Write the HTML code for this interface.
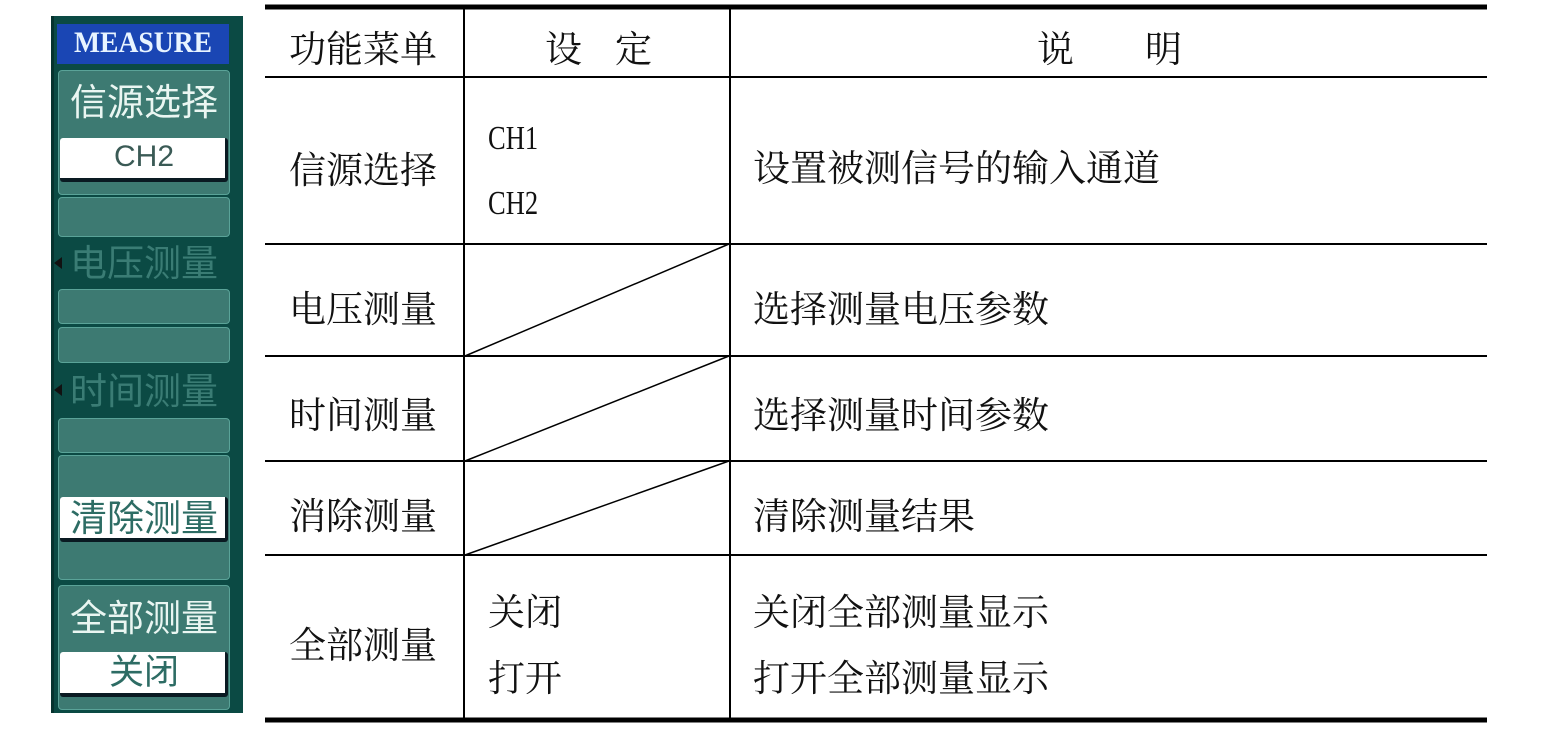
<!DOCTYPE html>
<html><head><meta charset="utf-8"><style>
body{margin:0;width:1549px;height:744px;background:#fff;position:relative;overflow:hidden}
.t{position:absolute;font-family:"Liberation Serif","Noto Serif CJK SC",serif;font-size:37px;color:#111;white-space:nowrap;line-height:1}
.c{font-family:"Liberation Serif",serif;font-size:34px;transform:scaleX(0.78);transform-origin:left}
.p{position:absolute;font-family:"Liberation Sans","Noto Sans CJK SC",sans-serif;white-space:nowrap;line-height:1;text-align:center}
.btn{position:absolute;left:58px;width:172px;background:#3d7a72;border:1px solid #5aa398;border-radius:4px;box-sizing:border-box}
.wb{position:absolute;left:60px;width:168px;background:#fff;border-bottom:4px solid #0a1a22;border-right:3px solid #0a1a22;border-radius:3px;box-sizing:border-box}
</style></head><body>
<!-- left panel -->
<div style="position:absolute;left:51px;top:16px;width:192px;height:697px;background:#0b4a44;border-left:3px solid #06332f;box-sizing:border-box"></div>
<div style="position:absolute;left:57px;top:24px;width:172px;height:40px;background:#1a46b4"></div>
<div class="p" style="left:57px;top:28px;width:172px;font-size:30px;font-weight:bold;color:#e8f4ff;font-family:'Liberation Serif',serif;transform:scaleX(0.92)">MEASURE</div>
<div class="btn" style="top:70px;height:125px"></div>
<div class="p" style="left:56px;top:84px;width:176px;font-size:37px;color:#eaf6f2">信源选择</div>
<div class="wb" style="top:138px;height:44px"></div>
<div class="p" style="left:60px;top:142px;width:168px;font-size:30px;color:#3a5a55">CH2</div>
<div class="btn" style="top:197px;height:40px"></div>
<div class="p" style="left:56px;top:245px;width:176px;font-size:37px;color:#3a7c74">电压测量</div>
<div style="position:absolute;left:54px;top:257px;width:0;height:0;border-top:6px solid transparent;border-bottom:6px solid transparent;border-right:8px solid #111"></div>
<div class="btn" style="top:289px;height:35px"></div>
<div class="btn" style="top:327px;height:36px"></div>
<div class="p" style="left:56px;top:373px;width:176px;font-size:37px;color:#3a7c74">时间测量</div>
<div style="position:absolute;left:54px;top:384px;width:0;height:0;border-top:6px solid transparent;border-bottom:6px solid transparent;border-right:8px solid #111"></div>
<div class="btn" style="top:418px;height:35px"></div>
<div class="btn" style="top:455px;height:125px"></div>
<div class="wb" style="top:497px;height:45px"></div>
<div class="p" style="left:58px;top:500px;width:172px;font-size:37px;color:#2d6c64">清除测量</div>
<div class="btn" style="top:585px;height:125px"></div>
<div class="p" style="left:56px;top:600px;width:176px;font-size:37px;color:#eaf6f2">全部测量</div>
<div class="wb" style="top:652px;height:45px"></div>
<div class="p" style="left:60px;top:655px;width:168px;font-size:35px;color:#2d6c64">关闭</div>
<!-- table lines -->
<svg style="position:absolute;left:0;top:0" width="1549" height="744">
<g stroke="#000" fill="none">
<line x1="265" y1="7" x2="1487" y2="7" stroke-width="5"/>
<line x1="265" y1="77" x2="1487" y2="77" stroke-width="2"/>
<line x1="265" y1="244" x2="1487" y2="244" stroke-width="2"/>
<line x1="265" y1="356" x2="1487" y2="356" stroke-width="2"/>
<line x1="265" y1="461" x2="1487" y2="461" stroke-width="2"/>
<line x1="265" y1="555" x2="1487" y2="555" stroke-width="2"/>
<line x1="265" y1="720" x2="1487" y2="720" stroke-width="5"/>
<line x1="464" y1="9" x2="464" y2="718" stroke-width="2"/>
<line x1="730" y1="9" x2="730" y2="718" stroke-width="2"/>
<line x1="465" y1="356" x2="729" y2="244" stroke-width="1.5"/>
<line x1="465" y1="461" x2="729" y2="356" stroke-width="1.5"/>
<line x1="465" y1="555" x2="729" y2="461" stroke-width="1.5"/>
</g></svg>
<div class="t" style="left:289px;top:32px">功能菜单</div>
<div class="t" style="left:545px;top:32px">设</div>
<div class="t" style="left:615px;top:32px">定</div>
<div class="t" style="left:1037px;top:32px">说</div>
<div class="t" style="left:1145px;top:32px">明</div>
<div class="t" style="left:289px;top:153px">信源选择</div>
<div class="t c" style="left:488px;top:122px">CH1</div>
<div class="t c" style="left:488px;top:187px">CH2</div>
<div class="t" style="left:753px;top:151px">设置被测信号的输入通道</div>
<div class="t" style="left:289px;top:292px">电压测量</div>
<div class="t" style="left:753px;top:292px">选择测量电压参数</div>
<div class="t" style="left:289px;top:398px">时间测量</div>
<div class="t" style="left:753px;top:398px">选择测量时间参数</div>
<div class="t" style="left:289px;top:499px">消除测量</div>
<div class="t" style="left:753px;top:499px">清除测量结果</div>
<div class="t" style="left:289px;top:628px">全部测量</div>
<div class="t" style="left:488px;top:595px">关闭</div>
<div class="t" style="left:488px;top:661px">打开</div>
<div class="t" style="left:753px;top:595px">关闭全部测量显示</div>
<div class="t" style="left:753px;top:661px">打开全部测量显示</div>
</body></html>
